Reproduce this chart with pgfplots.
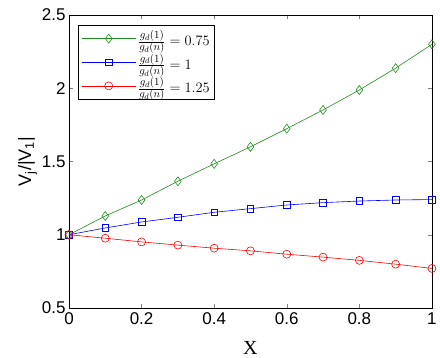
\documentclass[border=0pt]{standalone}
\usepackage{pgfplots}
\pgfplotsset{compat=1.18}
\usepackage{fontspec}
\setmainfont{Liberation Sans}
\newfontfamily\seriffont{Liberation Serif}
\definecolor{mgreen}{RGB}{30,140,30}
\begin{document}
\begin{tikzpicture}
\begin{axis}[
  scale only axis,
  width=363pt, height=293pt,
  xmin=0, xmax=1, ymin=0.5, ymax=2.5,
  xtick={0,0.2,0.4,0.6,0.8,1},
  ytick={0.5,1,1.5,2,2.5},
  tick align=inside,
  major tick length=4pt,
  axis line style={line width=0.8pt},
  /pgf/number format/assume math mode=true,
  ticklabel style={font=\fontsize{17}{19}\selectfont},
  xticklabel style={yshift=-1pt},
  xlabel={\seriffont X},
  xlabel style={font=\fontsize{20}{22}\selectfont, yshift=-10pt},
  ylabel={V\textsubscript{j}/|V\textsubscript{1}|},
  ylabel style={font=\fontsize{18}{20}\selectfont, yshift=-2pt},
  legend style={at={(0.025,0.966)}, anchor=north west, font=\fontsize{15.5}{17}\selectfont,
    draw=black, line width=0.7pt, row sep=3pt, inner sep=3pt, cells={anchor=west}},
  legend image code/.code={
    \draw[mark repeat=2,mark phase=2] plot coordinates {(0cm,0cm) (0.95cm,0cm) (1.9cm,0cm)};
  },
]
\addplot[mgreen, line width=0.6pt, mark=diamond, mark size=4.5pt, mark options={solid, fill=none}]
coordinates {(0,1.0) (0.1,1.128) (0.2,1.237) (0.3,1.365) (0.4,1.484) (0.5,1.60) (0.6,1.724) (0.7,1.852) (0.8,1.988) (0.9,2.137) (1.0,2.30)};
\addlegendentry{$\frac{g_d(1)}{g_d(n)} = 0.75$}
\addplot[blue, line width=0.6pt, mark=square, mark size=3.3pt, mark options={solid, fill=none}]
coordinates {(0,1.0) (0.1,1.046) (0.2,1.087) (0.3,1.119) (0.4,1.153) (0.5,1.178) (0.6,1.203) (0.7,1.219) (0.8,1.230) (0.9,1.237) (1.0,1.24)};
\addlegendentry{$\frac{g_d(1)}{g_d(n)} = 1$}
\addplot[red, line width=0.6pt, mark=o, mark size=4pt, mark options={solid, fill=none}]
coordinates {(0,1.0) (0.1,0.976) (0.2,0.951) (0.3,0.929) (0.4,0.908) (0.5,0.890) (0.6,0.867) (0.7,0.847) (0.8,0.825) (0.9,0.799) (1.0,0.770)};
\addlegendentry{$\frac{g_d(1)}{g_d(n)} = 1.25$}
\end{axis}
\path (current axis.south west) ++(-69pt,-49pt);
\path (current axis.north east) ++(8pt,15pt);
\end{tikzpicture}
\end{document}
